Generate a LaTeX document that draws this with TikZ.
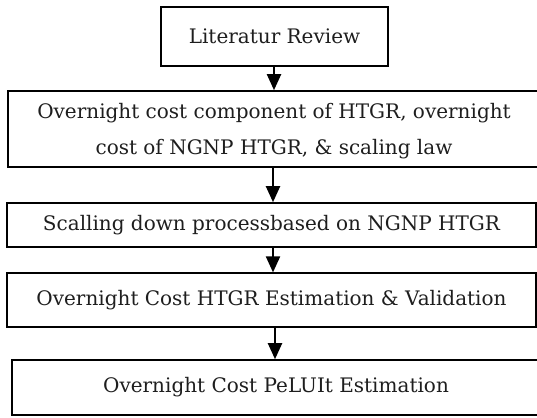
\documentclass[tikz,border=0pt]{standalone}
\usepackage{fontspec}
\setmainfont{DejaVu Serif}
\usetikzlibrary{arrows.meta}
\definecolor{txt}{HTML}{1E1E1E}
\begin{document}
\begin{tikzpicture}[x=1pt,y=-1pt,
  stepbox/.style={draw=black,line width=1.6pt,rectangle,inner sep=0pt,text=txt,
    font=\fontsize{20}{35}\selectfont,align=center},
  flow/.style={line width=2pt,-{Triangle[length=16pt,width=14pt]}}]
\useasboundingbox (0,0) rectangle (537,417);
\node[stepbox,minimum width=227pt,minimum height=59pt] (b1) at (274.5,36.5) {Literatur Review};
\node[stepbox,minimum width=532pt,minimum height=76pt] (b2) at (274,129) {\raisebox{-3pt}{\begin{tabular}{@{}c@{}}Overnight cost component of HTGR, overnight\\[1pt]cost of NGNP HTGR, \& scaling law\end{tabular}}};
\node[stepbox,minimum width=529pt,minimum height=44pt] (b3) at (271.5,225) {Scalling down processbased on NGNP HTGR};
\node[stepbox,line width=1.2pt,minimum width=529pt,minimum height=54pt] (b4) at (271.5,300) {Overnight Cost HTGR Estimation \& Validation};
\node[stepbox,minimum width=528pt,minimum height=55pt] (b5) at (276,387.5) {Overnight Cost PeLUIt Estimation};
\draw[flow] ([xshift=-0.5pt]b1.south) -- ([xshift=-0.5pt]b1.south |- b2.north);
\draw[flow] ([xshift=-1pt]b2.south) -- ([xshift=-1pt]b2.south |- b3.north);
\draw[flow] ([xshift=1.5pt]b3.south) -- ([xshift=1.5pt]b3.south |- b4.north);
\draw[flow] ([xshift=3.5pt]b4.south) -- ([xshift=3.5pt]b4.south |- b5.north);
\end{tikzpicture}
\end{document}
